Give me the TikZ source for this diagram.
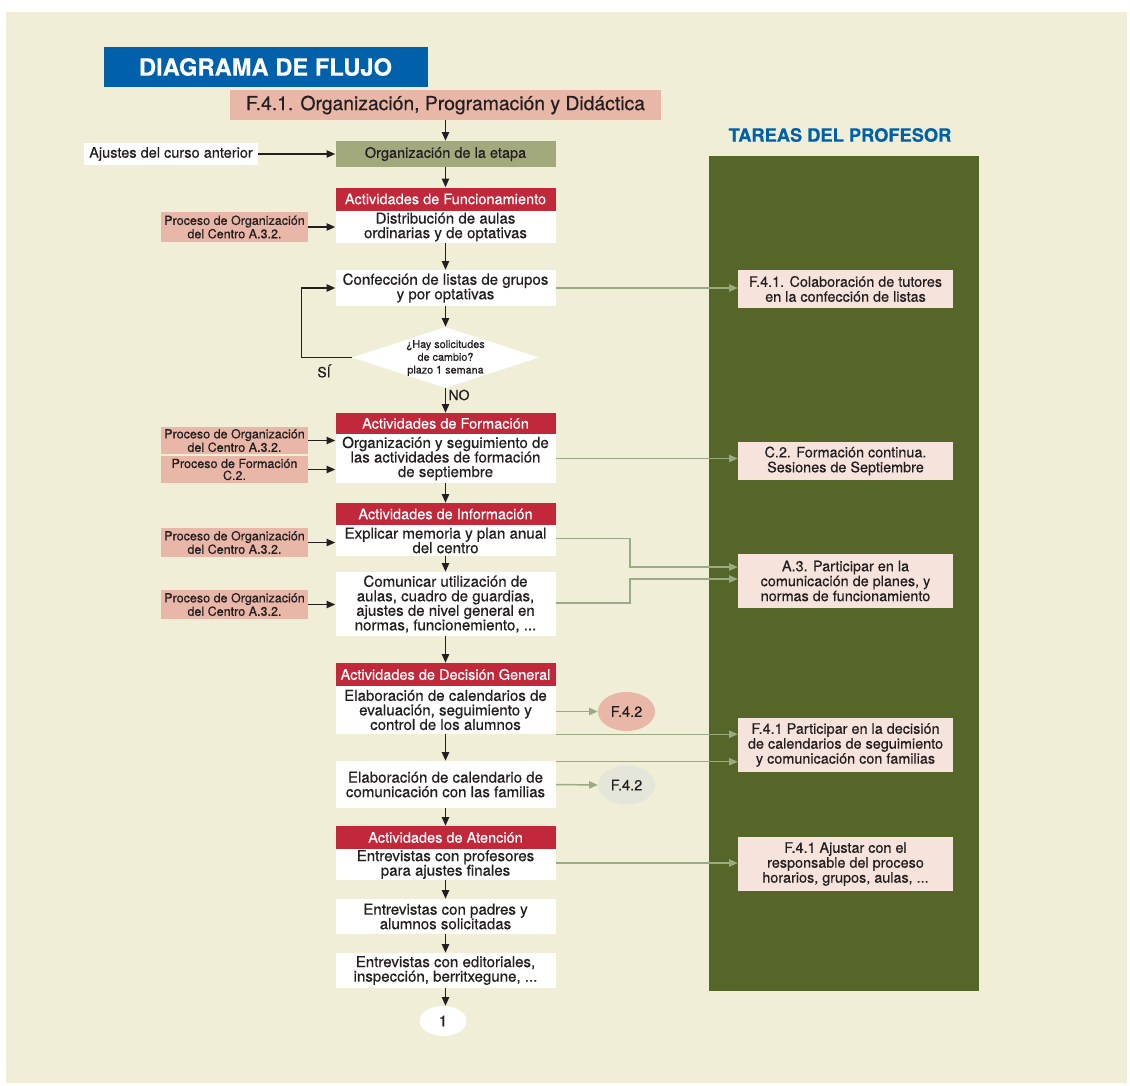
\documentclass[tikz,border=0pt]{standalone}
\usepackage{fontspec}
\setmainfont{TeX Gyre Heros}[RawFeature={embolden=0.45}]
\usetikzlibrary{arrows.meta,shapes.geometric,calc}
\definecolor{bgbeige}{HTML}{F0EED6}
\definecolor{panelgreen}{HTML}{566628}
\definecolor{tblue}{HTML}{0060A9}
\definecolor{pinkbox}{HTML}{E8B7A7}
\definecolor{olivebox}{HTML}{A2AA7D}
\definecolor{redhdr}{HTML}{C1283A}
\definecolor{rbox}{HTML}{F5E3DC}
\definecolor{garrowc}{HTML}{9AAA82}
\definecolor{grayell}{HTML}{E5E6DA}
\definecolor{txt}{HTML}{231F20}
\newcommand\fsz[2]{\fontsize{#1}{#2}\selectfont}
\def\u{0.75pt}
\begin{document}
\begin{tikzpicture}[x=0.75pt,y=-0.75pt,
  base/.style={inner sep=0pt,align=center,text=txt,font=\fsz{11.3}{10.9}},
  wbox/.style={base,fill=white,minimum width=220*\u,minimum height=#1*\u},
  rhdr/.style={base,fill=redhdr,text=white,font=\fsz{10.9}{11},minimum width=220*\u,minimum height=#1*\u},
  lbox/.style={base,fill=pinkbox,font=\fsz{9.4}{9},minimum width=147*\u,minimum height=#1*\u},
  rtask/.style={base,fill=rbox,font=\fsz{10.8}{11.2},minimum width=215*\u,minimum height=#1*\u},
  barrow/.style={draw=txt,line width=1pt,-{Triangle[length=6.5pt,width=5.5pt]}},
  garrow/.style={draw=garrowc,line width=1.1pt,-{Triangle[length=6.5pt,width=5.5pt]}},
]
\useasboundingbox (0,0) rectangle (1130,1085);
\fill[bgbeige] (6,12) rectangle (1127,1083);

% right panel
\node[fill=panelgreen,minimum width=270*\u,minimum height=835*\u,inner sep=0pt] (panel) at (844,573.5) {};
\node[base,text=tblue,font=\bfseries\fsz{13.7}{14}] (tareas) at (840,135) {TAREAS DEL PROFESOR};

% title
\node[base,fill=tblue,text=white,font=\bfseries\fsz{17.8}{18},minimum width=324*\u,minimum height=40*\u] (title) at (265.5,67) {DIAGRAMA DE FLUJO};
\node[base,fill=pinkbox,font=\fsz{14.5}{15},minimum width=431*\u,minimum height=30*\u] (hdr) at (445.5,105) {F.4.1. Organización, Programación y Didáctica};

% main column
\node[base,fill=olivebox,font=\fsz{10.9}{11},minimum width=220*\u,minimum height=26*\u] (etapa) at (445.5,154) {Organización de la etapa};
\node[base,fill=white,font=\fsz{10.9}{11},minimum width=174*\u,minimum height=22*\u] (ajustes) at (171,154) {Ajustes del curso anterior};

\node[rhdr=23] (hf) at (445.5,199) {Actividades de Funcionamiento};
\node[wbox=32] (distrib) at (445.5,227) {Distribución de aulas\\ordinarias y de optativas};
\node[wbox=36] (conf) at (445.5,288) {Confección de listas de grupos\\y por optativas};
\node[diamond,fill=white,inner sep=0pt,minimum width=187*\u,minimum height=61*\u] (diam) at (445.5,357.5) {};
\node[base,font=\fsz{8.1}{9.6}] (diamtxt) at (445.5,358) {¿Hay solicitudes\\de cambio?\\plazo 1 semana};
\node[base,font=\fsz{10.5}{11}] (si) at (324,371) {SÍ};
\node[base,font=\fsz{10.5}{11}] (no) at (459,395) {NO};

\node[rhdr=21] (hfo) at (445.5,423.5) {Actividades de Formación};
\node[wbox=49] (orgs) at (445.5,458.5) {Organización y seguimiento de\\las actividades de formación\\de septiembre};
\node[rhdr=22] (hi) at (445.5,514) {Actividades de Información};
\node[wbox=31] (expl) at (445.5,540.5) {Explicar memoria y plan anual\\del centro};
\node[wbox=64] (com) at (445.5,604) {Comunicar utilización de\\aulas, cuadro de guardias,\\ajustes de nivel general en\\normas, funcionemiento, ...};
\node[rhdr=23] (hd) at (445.5,674.5) {Actividades de Decisión General};
\node[wbox=48] (elab1) at (445.5,710) {Elaboración de calendarios de\\evaluación, seguimiento y\\control de los alumnos};
\node[wbox=47] (elab2) at (445.5,784.5) {Elaboración de calendario de\\comunicación con las familias};
\node[rhdr=23] (ha) at (445.5,837.5) {Actividades de Atención};
\node[wbox=31] (entp) at (445.5,864.5) {Entrevistas con profesores\\para ajustes finales};
\node[wbox=35] (entpa) at (445.5,916.5) {Entrevistas con padres y\\alumnos solicitadas};
\node[wbox=35] (ented) at (445.5,970.5) {Entrevistas con editoriales,\\inspección, berritxegune, ...};
\node[base,ellipse,fill=white,minimum width=47*\u,minimum height=30*\u] (one) at (443,1021) {1};

\node[base,ellipse,fill=pinkbox,font=\fsz{10.9}{11},minimum width=57*\u,minimum height=39*\u] (f42a) at (626.5,711.5) {F.4.2};
\node[base,ellipse,fill=grayell,font=\fsz{10.9}{11},minimum width=57*\u,minimum height=39*\u] (f42b) at (626.5,785) {F.4.2};

% left boxes
\node[lbox=30] (p1) at (234.5,227) {Proceso de Organización\\del Centro A.3.2.};
\node[lbox=27] (p2) at (234.5,440.5) {Proceso de Organización\\del Centro A.3.2.};
\node[lbox=27] (p3) at (234.5,469.5) {Proceso de Formación\\C.2.};
\node[lbox=29] (p4) at (234.5,542.5) {Proceso de Organización\\del Centro A.3.2.};
\node[lbox=29] (p5) at (234.5,604.5) {Proceso de Organización\\del Centro A.3.2.};

% right task boxes
\node[rtask=38] (r1) at (845.5,289) {F.4.1. Colaboración de tutores\\en la confección de listas};
\node[rtask=38] (r2) at (845.5,461) {C.2. Formación continua.\\Sesiones de Septiembre};
\node[rtask=54] (r3) at (845.5,581) {A.3. Participar en la\\comunicación de planes, y\\normas de funcionamiento};
\node[rtask=54] (r4) at (845.5,745) {F.4.1 Participar en la decisión\\de calendarios de seguimiento\\y comunicación con familias};
\node[rtask=54] (r5) at (845.5,864) {F.4.1 Ajustar con el\\responsable del proceso\\horarios, grupos, aulas, ...};

% black arrows main column
\draw[barrow] (hdr.south -| etapa.north) -- (etapa.north);
\draw[barrow] (ajustes.east) -- (etapa.west);
\draw[barrow] (etapa.south) -- (hf.north);
\draw[barrow] (distrib.south) -- (conf.north);
\draw[barrow] (conf.south) -- (diam.north);
\draw[barrow] (diam.south) -- (hfo.north);
\draw[barrow] (diam.west) -- ++(-50,0) |- (conf.west);
\draw[barrow] (orgs.south) -- (hi.north);
\draw[barrow] (expl.south) -- (com.north);
\draw[barrow] (com.south) -- (hd.north);
\draw[barrow] (elab1.south) -- (elab2.north);
\draw[barrow] (elab2.south) -- (ha.north);
\draw[barrow] (entp.south) -- (entpa.north);
\draw[barrow] (entpa.south) -- (ented.north);
\draw[barrow] (ented.south) -- (ented.south |- one.north);

% left arrows
\draw[barrow] (p1.east) -- (p1.east -| distrib.west);
\draw[barrow] (p2.east) -- (p2.east -| orgs.west);
\draw[barrow] (p3.east) -- (p3.east -| orgs.west);
\draw[barrow] (p4.east) -- (p4.east -| expl.west);
\draw[barrow] (p5.east) -- (p5.east -| com.west);

% green arrows
\coordinate (g3a) at ($(expl.east)+(0,-2)$);
\coordinate (g3b) at ($(com.east)+(0,-1)$);
\coordinate (t3a) at ($(r3.west)+(0,-14)$);
\coordinate (t3b) at ($(r3.west)+(0,-2)$);
\coordinate (g4a) at ($(elab1.east)+(0,1.5)$);
\coordinate (g4b) at ($(elab2.north east)+(0,1)$);
\coordinate (g5) at ($(entp.east)+(0,-1.5)$);
\draw[garrow] (conf.east) -- (conf.east -| r1.west);
\draw[garrow] (orgs.east) -- (orgs.east -| r2.west);
\draw[garrow] (g3a) -- ++(74,0) |- (t3a);
\draw[garrow] (g3b) -- ++(74,0) |- (t3b);
\draw[garrow] (g4a) -- (g4a -| f42a.west);
\draw[garrow] (elab1.south east) -- (elab1.south east -| r4.west);
\draw[garrow] (g4b) -- (g4b -| r4.west);
\draw[garrow] (elab2.east) -- (f42b.west);
\draw[garrow] (g5) -- (g5 -| r5.west);
\end{tikzpicture}
\end{document}
